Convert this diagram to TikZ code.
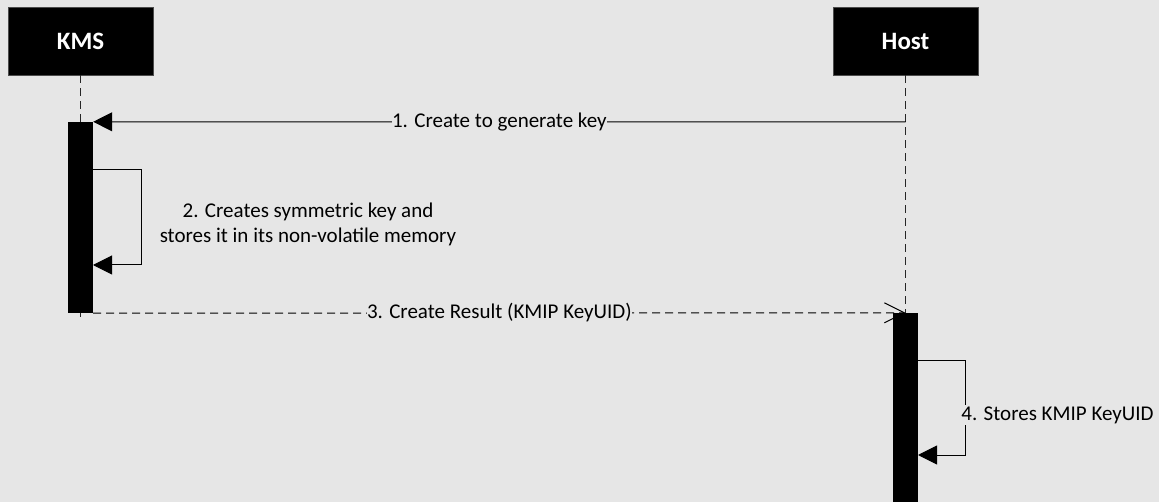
\documentclass[tikz,border=0pt]{standalone}
\usepackage{fontspec}
\setmainfont{Carlito}
\usetikzlibrary{arrows.meta}
\definecolor{bg}{HTML}{E6E6E6}
\begin{document}
\begin{tikzpicture}[x=1pt,y=-1pt,
  actor/.style={draw=black!70, fill=black, text=white, font=\fontsize{25}{29}\selectfont\bfseries, minimum width=145pt, minimum height=68pt, inner sep=0pt},
  barbox/.style={draw=none, inner sep=0pt, minimum width=25pt},
  life/.style={dash pattern=on 8pt off 5pt, line width=1pt, black!85},
  msg/.style={line width=1pt, -{Triangle[length=19pt,width=19pt]}},
  reply/.style={line width=1pt, dash pattern=on 8pt off 5pt, -{Straight Barb[length=20pt,width=20pt,line width=1pt]}},
  lbl/.style={fill=bg, inner sep=0.5pt, font=\fontsize{21}{25}\selectfont}]
\fill[bg] (0,0) rectangle (1159,502);
\useasboundingbox (0,0) rectangle (1159,502);
% actors
\node[actor] (kms) at (80.5,41) {KMS};
\node[actor] (host) at (905.5,41) {Host};
% activation bars (positions)
\node[barbox, minimum height=191pt] (kmsbar) at (80.5,217.5) {};
\node[barbox, minimum height=189pt] (hostbar) at (905.5,407.5) {};
\coordinate (kmsend) at (80.5,318);
% lifelines
\draw[life] (kms.south) -- (kmsend);
\draw[life] (host.south) -- (hostbar.north);
% message 1
\coordinate (m1s) at (905.5,122);
\draw[msg] (m1s) -- (kmsbar.north east) node[lbl, pos=0.5] (t1) {1. Create to generate key};
% message 2 (self)
\coordinate (l2a) at (93,170);
\coordinate (l2b) at (141,170);
\coordinate (l2c) at (141,265);
\coordinate (l2d) at (93,265);
\draw[msg] (l2a) -- (l2b) -- (l2c) -- (l2d);
\node[font=\fontsize{21}{25}\selectfont, align=center, inner sep=0pt] (t2) at (308,224) {2. Creates symmetric key and\\stores it in its non-volatile memory};
% message 3
\draw[reply] (kmsbar.south east) -- (hostbar.north) node[lbl, pos=0.5] (t3) {3. Create Result (KMIP KeyUID)};
% message 4 (self)
\coordinate (l4a) at (918,361);
\coordinate (l4b) at (965,361);
\coordinate (l4c) at (965,455);
\coordinate (l4d) at (918,455);
\draw[msg] (l4a) -- (l4b) -- (l4c) -- (l4d);
\node[lbl, inner sep=1pt] (t4) at (1057.5,415) {4. Stores KMIP KeyUID};
% bars on top
\fill (kmsbar.north west) rectangle (kmsbar.south east);
\fill (hostbar.north west) rectangle (hostbar.south east);
\end{tikzpicture}
\end{document}
